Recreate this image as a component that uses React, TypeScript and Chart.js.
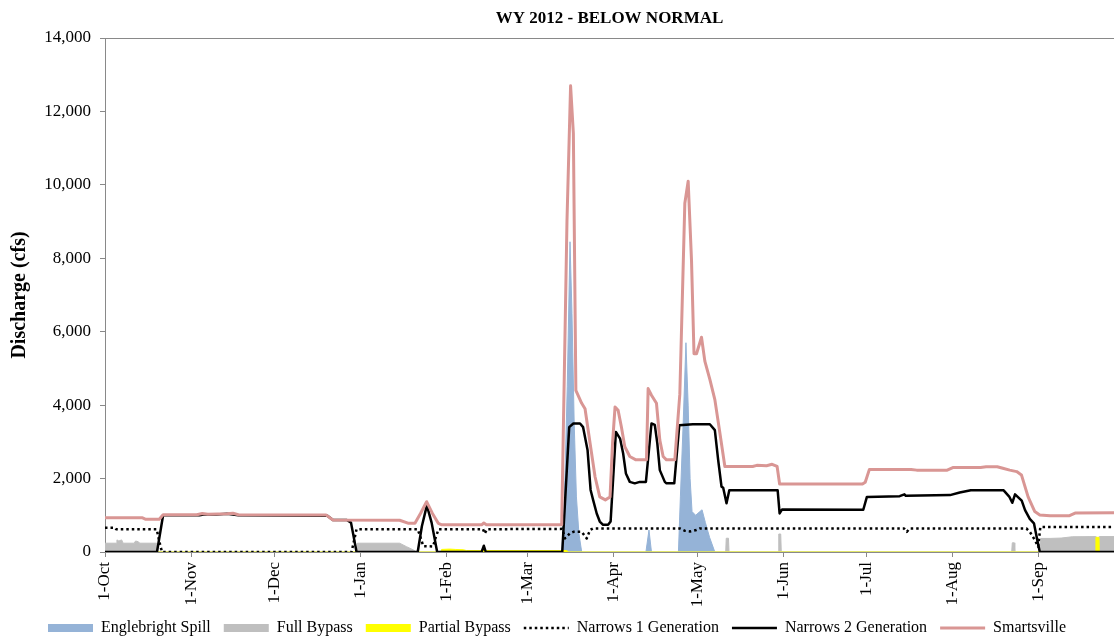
import { useEffect, useRef } from 'react';
import { Chart, registerables } from 'chart.js';

Chart.register(...registerables);

// ---- axis data ----
const monthStartDays = [0, 31, 61, 92, 123, 152, 183, 213, 244, 274, 305, 336];
const monthLabels = ['1-Oct', '1-Nov', '1-Dec', '1-Jan', '1-Feb', '1-Mar', '1-Apr', '1-May', '1-Jun', '1-Jul', '1-Aug', '1-Sep'];
const yMin = 0;
const yMax = 14000;
const yStep = 2000;
const xMaxDay = 363;

// ---- series: [day since 1-Oct, cfs] ----
const englebrightSpill: [number, number][] = [
  [0, 0], [164.4, 0], [165.3, 1500], [166.3, 4500], [167.3, 8450], [168, 6500], [168.8, 3500],
  [169.6, 1500], [170.5, 500], [171.5, 0],
  [194.6, 0], [195.7, 600], [196.6, 0],
  [206.3, 0], [207, 1500], [208, 3500], [209, 5700], [209.8, 4000], [210.5, 2000], [211.2, 1100],
  [212.5, 1000], [214, 1100], [214.8, 1150], [216, 800], [217.5, 400], [219.4, 0], [365, 0],
];

const fullBypass: [number, number][] = [
  [0, 240], [4, 240], [4.3, 330], [5, 300], [6, 330], [6.5, 240], [10.5, 240], [11, 300], [12, 280],
  [12.5, 240], [18.6, 240], [19, 0],
  [90.5, 0], [90.8, 240], [106, 240], [108.5, 145], [111, 54], [112, 0],
  [223.3, 0], [223.5, 375], [224.3, 375], [224.5, 0],
  [242.2, 0], [242.4, 490], [243.1, 490], [243.3, 0],
  [326.2, 0], [326.4, 250], [327.1, 250], [327.3, 0],
  [336.3, 0], [336.6, 370], [340, 370], [344, 380], [348, 415], [356.4, 420], [356.5, 0], [357.6, 0],
  [357.7, 420], [365, 420],
];

const partialBypass: [number, number][] = [
  [0, 0], [120.8, 0], [121.1, 70], [124, 80], [126, 70], [129, 60], [130, 40], [166, 40], [166.2, 0],
  [356.4, 0], [356.5, 400], [357.6, 400], [357.7, 0], [365, 0],
];

const narrows1Generation: [number, number][] = [
  [0, 660], [3.6, 660], [4, 620], [18.6, 620], [19.5, 300], [20.5, 0], [88.7, 0], [90.5, 620],
  [112.5, 620], [113.5, 400], [114.5, 160], [118, 150], [119, 400], [120, 620], [136, 620],
  [136.6, 500], [137.4, 620], [164.5, 630], [165.5, 370], [167.3, 510], [168.5, 550], [171.5, 550],
  [172.5, 450], [173.3, 370], [174.5, 600], [175.5, 640], [206.8, 640], [208.5, 580], [210.5, 560],
  [212.8, 600], [214, 640], [287.5, 640], [288.5, 550], [289.5, 640], [331.5, 640], [332.7, 550],
  [334.5, 330], [335.7, 145], [336.5, 680], [365, 680],
];

const narrows2Generation: [number, number][] = [
  [0, 0], [18.7, 0], [20.9, 1000], [34, 1000], [36, 1030], [40, 1020], [44, 1040], [48, 1000],
  [80, 990], [82, 870], [87, 870], [88.5, 800], [90.5, 0], [112.5, 0], [114, 700], [115.8, 1270],
  [117.5, 800], [119.5, 0], [135.5, 0], [136.3, 170], [137, 0], [164.5, 0], [167, 3400], [168.5, 3500],
  [170.9, 3500], [172, 3400], [173.6, 2780], [174.7, 1690], [175.6, 1420], [176.9, 1050], [178, 830],
  [179.2, 740], [181, 740], [181.9, 830], [183.8, 3270], [185.3, 3090], [186.4, 2690], [187.4, 2140],
  [188.8, 1910], [190.6, 1870], [192.4, 1910], [194.6, 1910], [196.6, 3500], [197.8, 3460],
  [198.7, 2960], [199.6, 2230], [201.4, 1910], [202, 1870], [204.8, 1870], [206.6, 3450],
  [211.5, 3480], [217.6, 3480], [219.4, 3320], [220.6, 2500], [221.8, 1780], [222.4, 1750],
  [223.6, 1330], [224.6, 1680], [242, 1680], [242.7, 1050], [243.6, 1160], [272.8, 1150],
  [274.1, 1500], [285.9, 1520], [287.6, 1570], [288.1, 1530], [304, 1550], [307.5, 1620],
  [311.5, 1680], [323.3, 1680], [325.3, 1510], [326.4, 1340], [327.4, 1570], [329.8, 1400],
  [331, 1140], [332.7, 900], [334.2, 780], [335.4, 330], [336.3, 0], [365, 0],
];

const smartsville: [number, number][] = [
  [0, 930], [13.5, 930], [14.5, 895], [19.5, 895], [20.9, 1015], [33, 1015], [35, 1050], [37, 1030],
  [44, 1040], [46, 1055], [48, 1015], [79.5, 1010], [82, 870], [106, 865], [109, 785], [111.5, 785],
  [113.5, 1050], [115.7, 1370], [117.8, 1050], [119.9, 780], [121, 745], [135.5, 740], [136.3, 790],
  [137.2, 745], [164.3, 745], [166.2, 9000], [167.5, 12700], [168.5, 11400], [169.4, 4400],
  [171.5, 4050], [172.7, 3900], [174.5, 2970], [176.3, 2050], [178, 1500], [180, 1420], [181.7, 1500],
  [182.6, 2970], [183.5, 3950], [184.6, 3860], [185.8, 3400], [187, 2870], [188.8, 2600], [191, 2510],
  [194.8, 2510], [195.4, 4450], [196.6, 4270], [198.4, 4050], [199.6, 3050], [200.8, 2600],
  [202, 2510], [205, 2510], [206.8, 4300], [208.6, 9500], [209.8, 10100], [211, 7950], [211.9, 5400],
  [212.8, 5400], [214.6, 5850], [215.8, 5200], [217.6, 4700], [219.4, 4150], [221.2, 3250],
  [223, 2330], [233, 2330], [234.5, 2360], [238, 2350], [240, 2390], [241.8, 2330], [242.7, 1850],
  [272.5, 1850], [273.5, 1900], [275, 2250], [290, 2250], [292, 2230], [303, 2230], [305, 2300],
  [315, 2300], [317, 2320], [321, 2320], [323, 2280], [325.5, 2230], [328, 2190], [329.7, 2100],
  [332.1, 1500], [334.5, 1100], [336.3, 1010], [340, 990], [347, 990], [349, 1060], [365, 1070],
];

// ---- layout / style constants ----
const CANVAS_W = 1114;
const CANVAS_H = 639;
const PLOT_LEFT = 105;
const PLOT_BOTTOM = 552;
const PAD_BOTTOM = -7;
const FONT = "'Liberation Serif', 'Times New Roman', serif";
const AXIS_GRAY = '#898989';

type Kind = 'area' | 'line';
interface SeriesDef {
  label: string;
  data: [number, number][];
  kind: Kind;
  color: string;
  width: number;
  dash: number[];
  order: number;
}

const series: SeriesDef[] = [
  { label: 'Englebright Spill', data: englebrightSpill, kind: 'area', color: '#95B3D7', width: 1, dash: [], order: 5 },
  { label: 'Full Bypass', data: fullBypass, kind: 'area', color: '#BFBFBF', width: 1, dash: [], order: 4 },
  { label: 'Partial Bypass', data: partialBypass, kind: 'area', color: '#FFFF00', width: 1, dash: [], order: 3 },
  { label: 'Narrows 1 Generation', data: narrows1Generation, kind: 'line', color: '#000000', width: 2.5, dash: [2.5, 3], order: 2 },
  { label: 'Narrows 2 Generation', data: narrows2Generation, kind: 'line', color: '#000000', width: 2.5, dash: [], order: 1 },
  { label: 'Smartsville', data: smartsville, kind: 'line', color: '#D99694', width: 3, dash: [], order: 0 },
];

const framePlugin = {
  id: 'plotFrame',
  beforeDatasetsDraw(chart: any) {
    const { ctx, chartArea: a } = chart;
    ctx.save();
    ctx.strokeStyle = AXIS_GRAY;
    ctx.lineWidth = 1;
    ctx.strokeRect(Math.round(a.left) + 0.5, Math.round(a.top) + 0.5, Math.round(a.right - a.left) + 2, Math.round(a.bottom - a.top));
    ctx.restore();
  },
};

export default function App() {
  const canvasRef = useRef<HTMLCanvasElement | null>(null);

  useEffect(() => {
    const canvas = canvasRef.current;
    if (!canvas) return;

    const datasets = series.map((s) => ({
      label: s.label,
      data: s.data.map(([x, y]) => ({ x, y })),
      borderColor: s.color,
      backgroundColor: s.color,
      borderWidth: s.width,
      borderDash: s.dash,
      fill: s.kind === 'area' ? 'origin' : false,
      pointRadius: 0,
      pointHoverRadius: 0,
      tension: 0,
      order: s.order,
      borderJoinStyle: 'round' as const,
    }));

    const chart = new Chart(canvas, {
      type: 'line',
      data: { datasets: datasets as any },
      plugins: [framePlugin],
      options: {
        responsive: false,
        animation: false,
        events: [],
        layout: { padding: { left: 0, right: 0, top: 0, bottom: PAD_BOTTOM } },
        plugins: {
          tooltip: { enabled: false },
          title: {
            display: true,
            text: 'WY 2012 - BELOW NORMAL',
            color: '#000',
            fullSize: false,
            font: { family: FONT, size: 17, weight: 'bold' },
            padding: { top: 8, bottom: 9.6 },
          },
          legend: {
            position: 'bottom',
            labels: {
              usePointStyle: true,
              pointStyleWidth: 45,
              boxWidth: 45,
              boxHeight: 8,
              padding: 13,
              color: '#000',
              font: { family: FONT, size: 16 },
              sort: (a: any, b: any) => a.datasetIndex - b.datasetIndex,
              generateLabels: () =>
                series.map((s, i) => ({
                  text: s.label,
                  datasetIndex: i,
                  hidden: false,
                  fontColor: '#000',
                  fillStyle: s.kind === 'area' ? s.color : 'rgba(0,0,0,0)',
                  strokeStyle: s.color,
                  lineWidth: s.kind === 'area' ? 0 : s.width,
                  lineDash: s.dash,
                  lineCap: 'butt',
                  pointStyle: s.kind === 'area' ? 'rect' : 'line',
                })) as any,
            },
          },
        },
        scales: {
          x: {
            type: 'linear',
            min: 0,
            max: xMaxDay,
            afterBuildTicks: (scale: any) => {
              scale.ticks = monthStartDays.map((v) => ({ value: v }));
            },
            afterFit: (scale: any) => {
              const legendH = scale.chart.legend ? scale.chart.legend.height : 0;
              scale.height = CANVAS_H - PAD_BOTTOM - legendH - PLOT_BOTTOM;
            },
            ticks: {
              autoSkip: false,
              minRotation: 90,
              maxRotation: 90,
              padding: 5,
              color: '#000',
              font: { family: FONT, size: 17 },
              callback: (_v: any, i: number) => monthLabels[i],
            },
            grid: { drawOnChartArea: false, drawTicks: true, tickLength: 5, color: AXIS_GRAY },
            border: { color: AXIS_GRAY, width: 1 },
          },
          y: {
            type: 'linear',
            min: yMin,
            max: yMax,
            afterFit: (scale: any) => {
              scale.width = PLOT_LEFT;
            },
            ticks: {
              stepSize: yStep,
              padding: 9,
              color: '#000',
              font: { family: FONT, size: 17 },
              callback: (v: any) => Number(v).toLocaleString('en-US'),
            },
            grid: { drawOnChartArea: false, drawTicks: true, tickLength: 5, color: AXIS_GRAY },
            border: { color: AXIS_GRAY, width: 1 },
            title: {
              display: true,
              text: 'Discharge (cfs)',
              color: '#000',
              font: { family: FONT, size: 20, weight: 'bold' },
              padding: { top: 8, bottom: 0 },
            },
          },
        },
      },
    });

    return () => chart.destroy();
  }, []);

  return (
    <div style={{ position: 'absolute', left: 0, top: 0, width: CANVAS_W, height: CANVAS_H, overflow: 'hidden', background: '#fff' }}>
      <canvas ref={canvasRef} width={CANVAS_W} height={CANVAS_H} style={{ display: 'block' }} />
    </div>
  );
}
